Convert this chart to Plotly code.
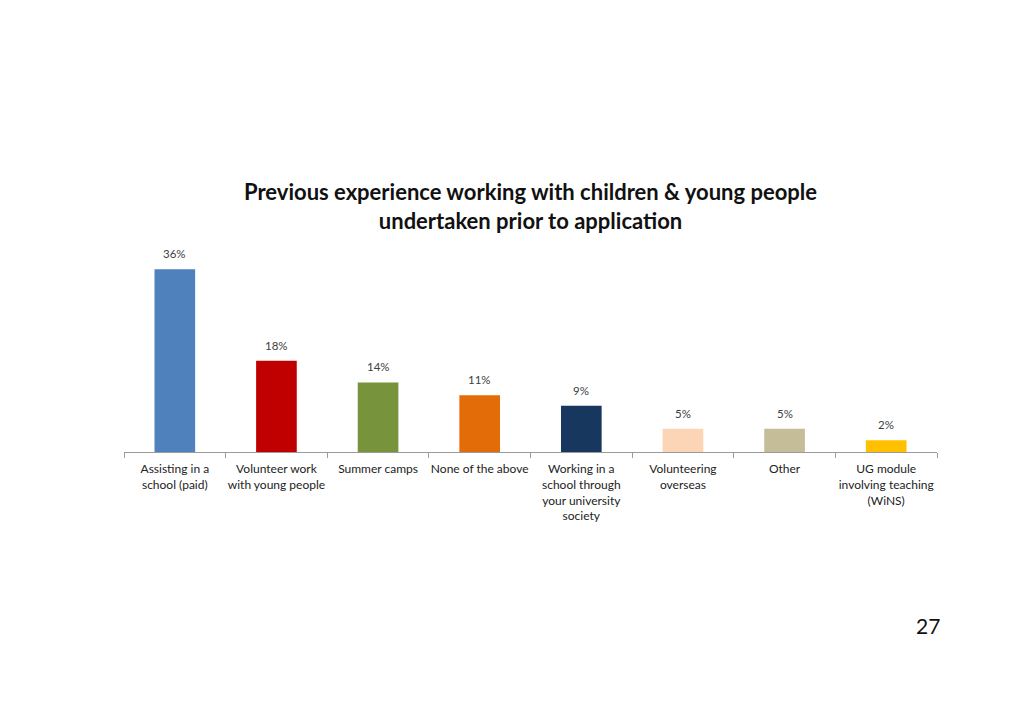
import plotly.graph_objects as go

categories = [
    "Assisting in a<br>school (paid)",
    "Volunteer work<br>with young people",
    "Summer camps",
    "None of the above",
    "Working in a<br>school through<br>your university<br>society",
    "Volunteering<br>overseas",
    "Other",
    "UG module<br>involving teaching<br>(WiNS)",
]
values = [36, 18, 13.7, 11.2, 9.1, 4.6, 4.6, 2.3]
labels = ["36%", "18%", "14%", "11%", "9%", "5%", "5%", "2%"]
colors = ["#4F81BD", "#C00000", "#77933C", "#E36C09", "#17375E", "#FBD5B5", "#C4BD97", "#FFC000"]

W, H = 1024, 709
OFF = 8  # page body margin
L, R = 124 - OFF, 937 - OFF
BASE = 452 - OFF
PX_PER = 5.08
YMAX = 40
top = BASE - YMAX * PX_PER

fig = go.Figure(go.Bar(
    x=categories, y=values,
    marker=dict(color=colors, line=dict(width=0)),
    width=0.4, cliponaxis=False,
))

label_annots = [
    dict(x=c, y=v, text=t, xref="x", yref="y", showarrow=False,
         yanchor="bottom", yshift=7,
         font=dict(family="Lato, Open Sans, sans-serif", size=11.5, color="#404040"))
    for c, v, t in zip(categories, values, labels)
]

fig.update_layout(
    width=W, height=H,
    margin=dict(l=L, r=W - R, t=top, b=H - BASE, pad=0),
    paper_bgcolor="white", plot_bgcolor="white",
    showlegend=False,
    font=dict(family="Lato, Open Sans, sans-serif", color="#222222"),
    xaxis=dict(
        showline=True, linecolor="#9a9a9a", linewidth=1,
        ticks="outside", tickson="boundaries", ticklen=5, tickcolor="#9a9a9a",
        tickfont=dict(size=12, color="#222222"), tickangle=0,
        ticklabelstandoff=6,
        showgrid=False,
    ),
    yaxis=dict(range=[0, YMAX], visible=False, showgrid=False),
    annotations=label_annots + [
        dict(text="<b>Previous experience working with children & young people<br>undertaken prior to application</b>",
             xref="paper", yref="paper", x=0.5, y=(BASE - (206 - OFF)) / (BASE - top), xanchor="center", yanchor="middle",
             showarrow=False, font=dict(size=22, color="#111111", family="Lato, Open Sans, sans-serif"),
             align="center"),
        dict(text="27", xref="paper", yref="paper",
             x=(928 - OFF - L) / (R - L), y=(BASE - (626 - OFF)) / (BASE - top),
             xanchor="center", yanchor="middle", showarrow=False,
             font=dict(size=21, color="#111111", family="Lato, Open Sans, sans-serif")),
    ],
)

fig.write_html("out.html")
